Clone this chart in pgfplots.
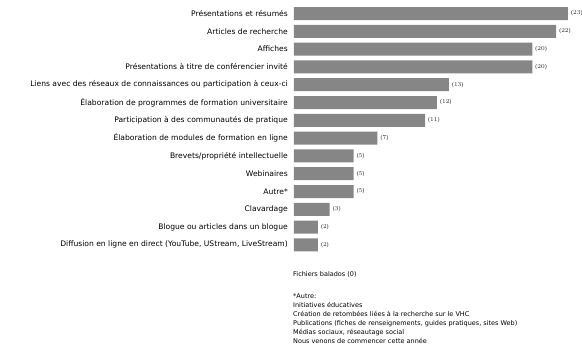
\documentclass[border=0pt]{standalone}
\usepackage{fontspec}
\setmainfont{DejaVu Sans}
\newfontfamily\serfont{Liberation Serif}
\usepackage{pgfplots}
\pgfplotsset{compat=1.18}
\definecolor{bargray}{RGB}{134,134,134}
\begin{document}
\begin{tikzpicture}[x=1pt,y=1pt]
\useasboundingbox (0,0) rectangle (582,351);
\begin{axis}[
  at={(294pt,346.4pt)}, anchor=north west,
  scale only axis, width=274pt, height=249.2pt,
  xbar, bar width=13pt,
  xmin=0, xmax=23,
  ymin=-0.5, ymax=13.5, y dir=reverse,
  axis line style={draw=none},
  ytick={0,...,13},
  yticklabels={Présentations et résumés,Articles de recherche,Affiches,Présentations à titre de conférencier invité,Liens avec des réseaux de connaissances ou participation à ceux-ci,Élaboration de programmes de formation universitaire,Participation à des communautés de pratique,Élaboration de modules de formation en ligne,Brevets/propriété intellectuelle,Webinaires,Autre*,Clavardage,Blogue ou articles dans un blogue,{Diffusion en ligne en direct (YouTube, UStream, LiveStream)}},
  yticklabel style={font=\fontsize{7.6}{9}\selectfont, inner sep=0pt, xshift=-6pt},
  major tick length=0pt,
  tick style={draw=none},
  xtick=\empty,
  clip=false,
  nodes near coords={(\pgfmathprintnumber{\pgfplotspointmeta})},
  nodes near coords style={font=\serfont\fontsize{6}{7}\selectfont, inner sep=0pt, xshift=3pt, anchor=west, text=black!85},
  point meta=explicit,
]
\addplot[fill=bargray, draw=none] coordinates {
(23,0) [23]
(22,1) [22]
(20,2) [20]
(20,3) [20]
(13,4) [13]
(12,5) [12]
(11,6) [11]
(7,7) [7]
(5,8) [5]
(5,9) [5]
(5,10) [5]
(3,11) [3]
(2,12) [2]
(2,13) [2]
};
\end{axis}
\node[anchor=west, inner sep=0pt, font=\fontsize{6.5}{9}\selectfont] at (293,77) {Fichiers balados (0)};
\node[anchor=north west, inner sep=0pt, align=left, font=\fontsize{6.5}{9}\selectfont] at (293,57.5) {*Autre:\\Initiatives éducatives\\Création de retombées liées à la recherche sur le VHC\\Publications (fiches de renseignements, guides pratiques, sites Web)\\Médias sociaux, réseautage social\\Nous venons de commencer cette année};
\end{tikzpicture}
\end{document}
